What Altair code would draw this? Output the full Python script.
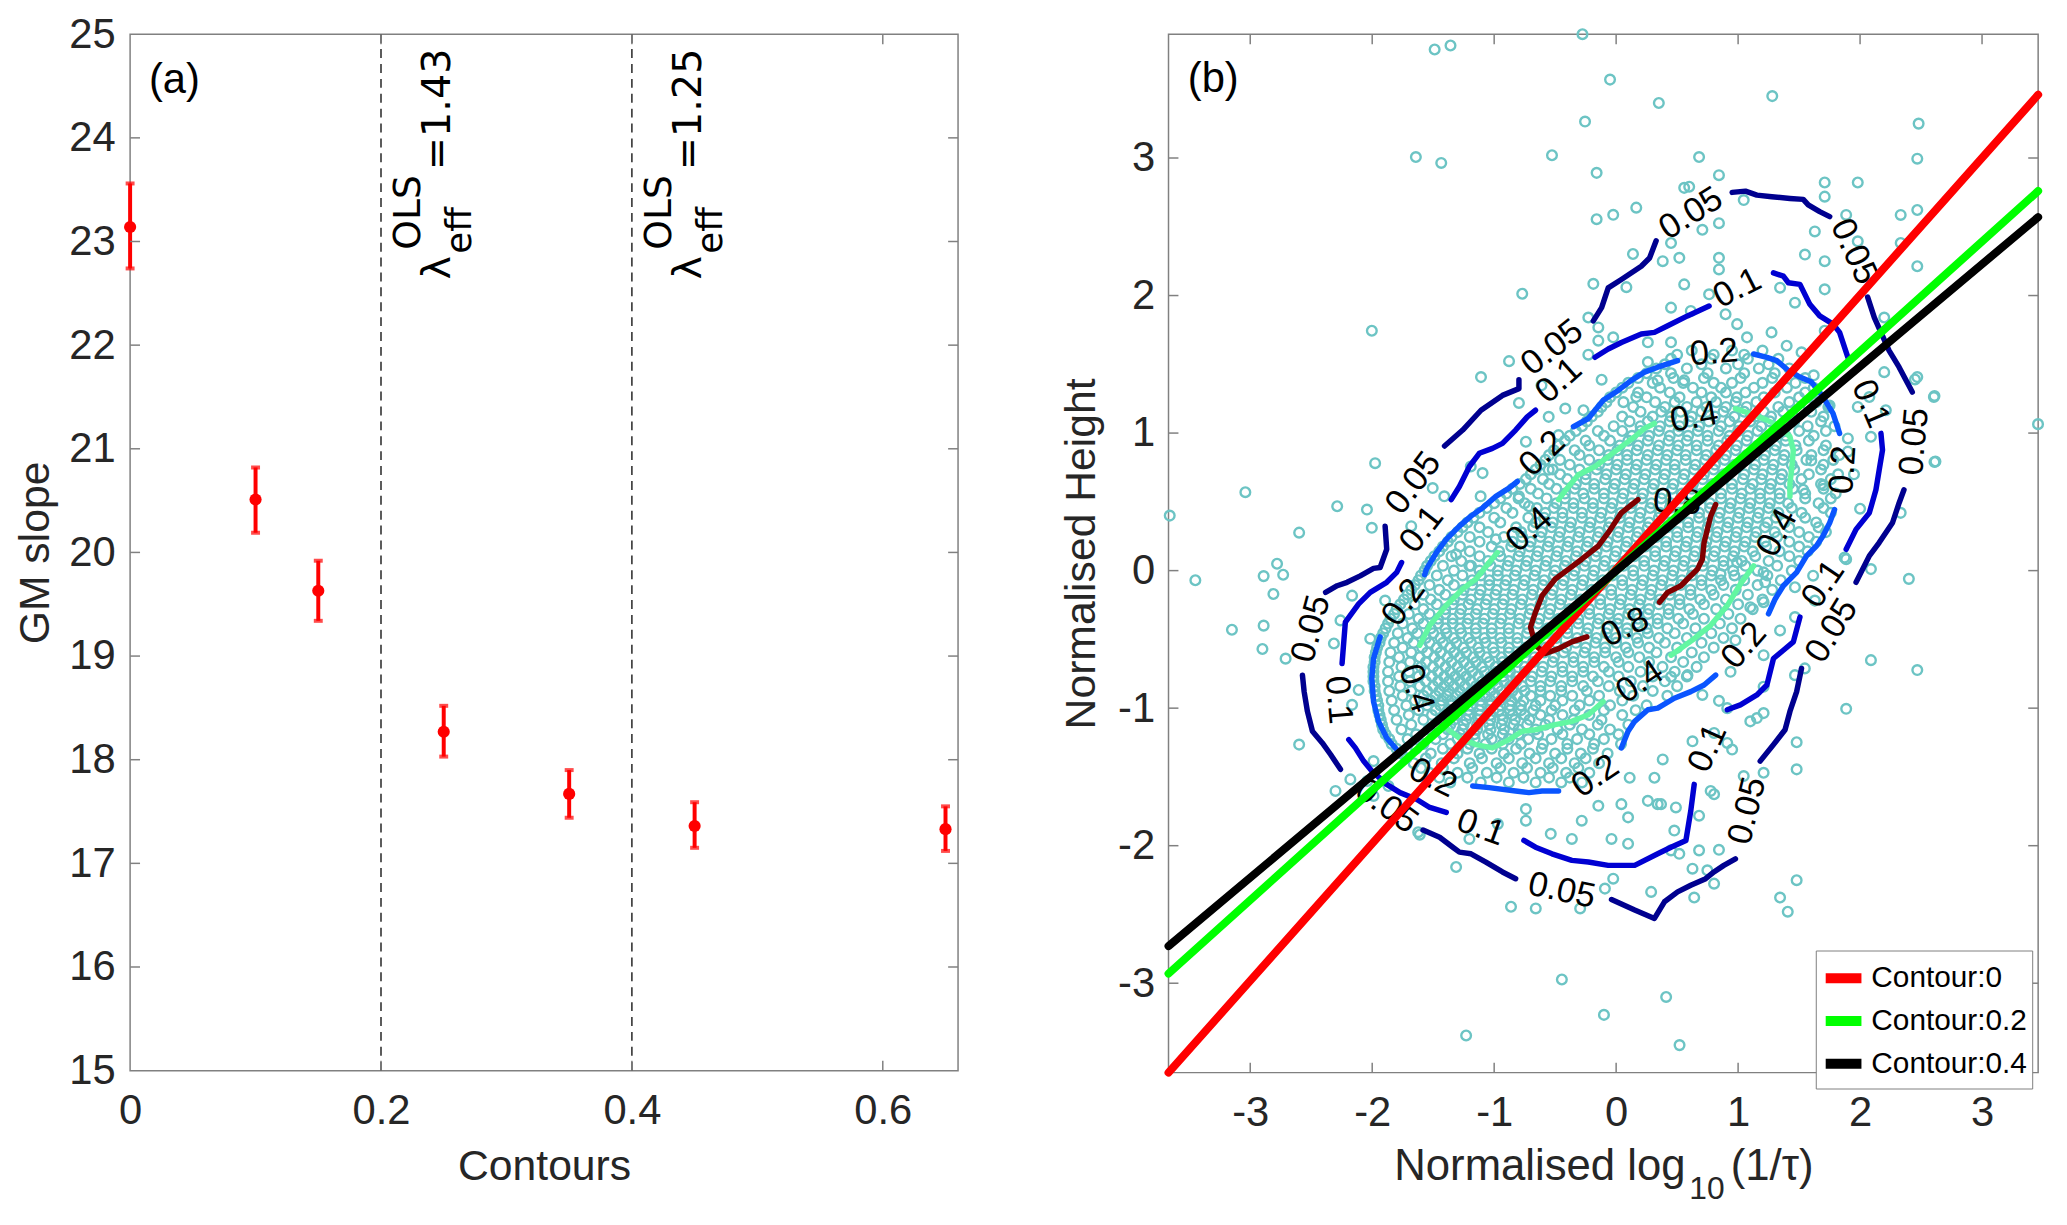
import altair as alt
import pandas as pd

FONT = "Liberation Sans"
INK = "#262626"
BOX = "#808080"

# ---------------- panel (a) data ----------------
contour_level = [0, 0.1, 0.15, 0.25, 0.35, 0.45, 0.65]
gm_slope = [23.14, 20.51, 19.63, 18.27, 17.67, 17.36, 17.33]
gm_low = [22.74, 20.19, 19.34, 18.03, 17.44, 17.15, 17.12]
gm_high = [23.56, 20.82, 19.92, 18.52, 17.90, 17.59, 17.55]
lambda_at = [0.2, 0.4]
lambda_val = ["=1.43", "=1.25"]
a_xticks = [0, 0.2, 0.4, 0.6]
a_yticks = [15, 16, 17, 18, 19, 20, 21, 22, 23, 24, 25]

# ---------------- panel (b) data ----------------
b_ticks = [-3, -2, -1, 0, 1, 2, 3]

# sparse / outer points (read individually)
outer_pts = [
    (-0.276, 3.90), (-1.488, 3.789), (-1.358, 3.818), (-1.642, 3.007), (-1.434, 2.964),
    (-0.255, 3.265), (-0.526, 3.020), (-0.770, 2.013), (-0.187, 2.085), (-0.160, 2.892),
    (-0.160, 2.555), (-0.05, 3.57), (0.35, 3.40), (1.28, 3.45), (2.48, 3.25),
    (0.680, 3.007), (0.843, 2.875), (0.599, 2.791), (1.710, 2.822), (1.710, 2.719),
    (1.981, 2.822), (2.469, 2.995), (2.333, 2.586), (2.469, 2.622), (1.886, 2.586),
    (1.629, 2.466), (1.981, 2.394), (1.548, 2.298), (1.710, 2.250), (2.469, 2.213),
    (2.333, 2.382), (1.710, 2.045), (1.046, 2.694), (0.843, 2.526), (0.707, 2.478),
    (0.518, 2.274), (0.382, 2.250), (0.843, 2.274), (0.843, 2.190), (0.558, 2.081),
    (0.762, 2.009), (0.450, 1.912), (0.612, 1.888), (0.897, 1.864), (0.992, 1.792),
    (1.274, 1.732), (1.344, 2.057), (1.466, 1.948), (1.710, 1.744), (1.073, 1.696),
    (1.398, 1.635), (1.520, 1.587), (2.198, 1.840), (2.198, 1.443), (2.469, 1.407),
    (2.076, 1.262), (2.211, 1.166), (2.605, 1.262), (2.618, 0.793), (3.459, 1.065),
    (1.981, 1.190), (2.089, 0.973), (2.333, 0.420), (1.873, 0.095), (1.900, 0.961),
    (1.900, 0.865), (1.534, 0.588),
    (-0.024, 2.587), (0.165, 2.639), (0.558, 2.783), (0.450, 2.382), (0.138, 2.302),
    (0.084, 2.061), (-2.003, 1.744), (-0.228, 1.840), (-0.146, 1.768), (-0.146, 1.672),
    (-0.024, 1.696), (0.260, 1.660), (0.450, 1.660), (-0.878, 1.523), (-1.108, 1.407),
    (-0.228, 1.570), (-0.119, 1.388), (0.260, 1.516), (0.341, 1.383), (-0.797, 1.219),
    (-0.612, 1.347), (-0.417, 1.178), (-0.553, 1.118), (-0.268, 1.166), (0.165, 1.262),
    (0.558, 1.383), (-1.976, 0.781), (-2.287, 0.468), (-2.043, 0.444), (-2.003, 0.311),
    (-2.599, 0.276), (-1.680, 0.323), (-1.504, 0.600), (-1.409, 0.540), (-1.192, 0.757),
    (-1.111, 0.540), (-1.095, 0.709), (-0.740, 0.937), (-0.472, 0.985), (-0.553, 0.733),
    (-0.797, 0.540), (-0.715, 0.468), (-0.986, 0.227), (-1.312, 0.118), (-1.203, 0.035),
    (-3.66, 0.40), (-3.45, -0.07), (-3.04, 0.57), (-2.89, -0.04), (-2.78, 0.05),
    (-2.73, -0.03), (-2.81, -0.17), (-2.89, -0.40), (-3.15, -0.43), (-2.90, -0.57),
    (-2.71, -0.64), (-2.04, -1.53), (-1.61, -1.92), (-0.10, -3.23), (0.41, -3.10),
    (0.52, -3.45), (-1.23, -3.38), (2.40, -0.06), (2.61, 0.79), (2.61, 1.27), (2.45, 1.39),
    (-2.016, -0.495), (-2.314, -0.530), (-2.165, -0.182), (-1.894, -0.218), (-2.260, -0.362),
    (-2.111, -0.868), (-2.165, -0.976), (-1.989, -1.385), (-1.867, -1.566), (-1.989, -1.638),
    (-1.623, -1.902), (-1.312, -2.155), (-1.203, -1.951), (-0.970, -1.842), (-0.862, -2.444),
    (-0.659, -2.456), (-0.445, -2.973), (-0.295, -2.456), (-0.092, -2.312), (-0.024, -2.240),
    (0.287, -2.336), (0.098, -1.986), (0.450, -2.034), (-0.038, -1.951), (-0.363, -1.951),
    (-0.536, -1.914), (-0.740, -1.818), (-0.740, -1.734), (-0.282, -1.818), (-0.146, -1.710),
    (0.043, -1.698), (0.260, -1.674), (0.341, -1.698), (0.490, -1.722), (0.477, -1.890),
    (0.111, -1.506), (0.314, -1.506), (0.098, -1.794), (-2.599, -1.265), (-2.301, -1.602),
    (-2.179, -1.518),
    (2.089, -0.651), (2.469, -0.723), (1.886, -1.005), (1.480, -1.248), (1.480, -1.445),
    (1.480, -2.251), (1.344, -2.377), (1.407, -2.480), (0.843, -2.030), (0.626, -2.167),
    (0.640, -2.377), (0.803, -2.276), (0.680, -2.034), (0.748, -2.179), (0.518, -2.059),
    (1.209, -1.470), (1.046, -1.494), (0.775, -1.602), (0.803, -1.626), (0.680, -1.782),
    (0.368, -1.698), (0.382, -1.373), (0.626, -1.241), (0.911, -1.253), (0.951, -1.301),
    (0.803, -1.180), (1.100, -1.096), (1.154, -1.072), (1.209, -1.036), (0.843, -0.947),
    (0.911, -1.000), (0.707, -0.904), (0.585, -0.760), (0.450, -0.772), (0.938, -0.736),
    (1.209, -0.615), (1.209, -0.844), (1.466, -0.760), (1.547, -0.711), (1.344, -0.435),
    (1.466, -0.338), (0.978, -0.507), (1.100, -0.266), (1.209, -0.230), (1.222, -0.085),
    (1.209, -0.013), (1.466, -0.121), (1.629, -0.218), (1.886, 0.083), (2.089, 0.011),
    (1.615, -0.037), (0.992, 0.059), (0.856, -0.025),
    (1.60, 0.80), (1.70, 0.62), (1.75, 1.20), (1.95, 0.70), (2.00, 0.45), (1.62, 1.42),
]

# dense core, estimated row by row (y, x values)
core_rows = [
    (1.60, [0.62, 0.95, 1.2]),
    (1.54, [0.45, 0.78, 1.08, 1.33]),
    (1.47, [0.33, 0.58, 0.90, 1.17, 1.42]),
    (1.40, [0.18, 0.47, 0.72, 1.02, 1.28, 1.55]),
    (1.33, [0.05, 0.36, 0.63, 0.86, 1.13, 1.40, 1.62]),
    (1.26, [-0.05, 0.25, 0.52, 0.78, 0.99, 1.21, 1.50, 1.68]),
    (1.19, [-0.12, 0.14, 0.40, 0.58, 0.74, 0.90, 1.07, 1.33, 1.58, 1.74]),
    (1.12, [-0.20, 0.05, 0.30, 0.45, 0.62, 0.81, 0.97, 1.14, 1.27, 1.45, 1.70]),
    (1.05, [-0.28, -0.02, 0.20, 0.36, 0.52, 0.68, 0.86, 1.01, 1.19, 1.34, 1.57, 1.79]),
    (0.98, [-0.38, -0.10, 0.13, 0.27, 0.44, 0.59, 0.75, 0.93, 1.08, 1.25, 1.39, 1.62]),
    (0.91, [-0.47, -0.22, 0.03, 0.18, 0.35, 0.51, 0.66, 0.84, 0.99, 1.16, 1.31, 1.47, 1.72]),
    (0.84, [-0.55, -0.30, -0.06, 0.09, 0.26, 0.42, 0.57, 0.74, 0.90, 1.07, 1.22, 1.38, 1.60, 1.83]),
    (0.77, [-0.62, -0.38, -0.14, 0.01, 0.17, 0.33, 0.48, 0.65, 0.81, 0.97, 1.14, 1.29, 1.44, 1.70]),
    (0.70, [-0.70, -0.46, -0.25, -0.08, 0.08, 0.24, 0.40, 0.56, 0.72, 0.88, 1.05, 1.20, 1.36, 1.58, 1.82]),
    (0.63, [-0.79, -0.55, -0.33, -0.18, -0.01, 0.15, 0.31, 0.47, 0.63, 0.79, 0.95, 1.12, 1.27, 1.42, 1.68]),
    (0.56, [-0.90, -0.64, -0.42, -0.27, -0.10, 0.06, 0.22, 0.38, 0.54, 0.70, 0.86, 1.03, 1.18, 1.34, 1.55, 1.80]),
    (0.49, [-1.00, -0.75, -0.49, -0.35, -0.19, -0.03, 0.13, 0.29, 0.45, 0.61, 0.77, 0.94, 1.10, 1.26, 1.41, 1.66]),
    (0.42, [-1.12, -0.85, -0.58, -0.44, -0.28, -0.12, 0.04, 0.20, 0.36, 0.52, 0.68, 0.85, 1.01, 1.17, 1.33, 1.52, 1.76]),
    (0.35, [-1.22, -0.95, -0.66, -0.52, -0.37, -0.21, -0.05, 0.11, 0.27, 0.43, 0.59, 0.76, 0.92, 1.08, 1.24, 1.38, 1.64]),
    (0.28, [-1.30, -1.05, -0.78, -0.61, -0.46, -0.30, -0.14, 0.02, 0.18, 0.34, 0.50, 0.67, 0.83, 0.99, 1.15, 1.30, 1.50, 1.72]),
    (0.21, [-1.38, -1.12, -0.85, -0.70, -0.55, -0.39, -0.23, -0.07, 0.09, 0.25, 0.41, 0.58, 0.74, 0.90, 1.06, 1.22, 1.42, 1.64]),
    (0.14, [-1.45, -1.20, -0.96, -0.79, -0.64, -0.48, -0.32, -0.16, 0.00, 0.16, 0.32, 0.49, 0.65, 0.81, 0.97, 1.12, 1.34, 1.57]),
    (0.07, [-1.52, -1.27, -1.05, -0.88, -0.73, -0.57, -0.41, -0.25, -0.09, 0.07, 0.23, 0.40, 0.56, 0.72, 0.88, 1.03, 1.25, 1.50]),
    (0.00, [-1.57, -1.33, -1.12, -0.97, -0.82, -0.66, -0.50, -0.34, -0.18, -0.02, 0.14, 0.31, 0.47, 0.63, 0.79, 0.96, 1.16, 1.44]),
    (-0.07, [-1.62, -1.38, -1.18, -1.04, -0.90, -0.75, -0.59, -0.43, -0.27, -0.11, 0.05, 0.22, 0.38, 0.54, 0.70, 0.86, 1.05, 1.35]),
    (-0.14, [-1.68, -1.45, -1.25, -1.11, -0.98, -0.84, -0.68, -0.52, -0.36, -0.20, -0.04, 0.13, 0.29, 0.45, 0.61, 0.78, 0.98, 1.28]),
    (-0.21, [-1.74, -1.52, -1.33, -1.19, -1.06, -0.92, -0.77, -0.61, -0.45, -0.29, -0.13, 0.04, 0.20, 0.36, 0.52, 0.69, 0.90, 1.20]),
    (-0.28, [-1.80, -1.58, -1.40, -1.27, -1.14, -1.00, -0.86, -0.70, -0.54, -0.38, -0.22, -0.05, 0.11, 0.27, 0.43, 0.60, 0.82, 1.12]),
    (-0.35, [-1.85, -1.62, -1.46, -1.34, -1.21, -1.08, -0.94, -0.79, -0.63, -0.47, -0.31, -0.14, 0.02, 0.18, 0.34, 0.51, 0.72, 1.02]),
    (-0.42, [-1.89, -1.67, -1.52, -1.40, -1.28, -1.15, -1.02, -0.88, -0.72, -0.56, -0.40, -0.23, -0.07, 0.09, 0.25, 0.42, 0.65, 0.95]),
    (-0.49, [-1.93, -1.71, -1.56, -1.44, -1.33, -1.21, -1.08, -0.95, -0.81, -0.65, -0.49, -0.32, -0.16, 0.00, 0.17, 0.35, 0.58, 0.88]),
    (-0.56, [-1.96, -1.75, -1.59, -1.47, -1.36, -1.25, -1.13, -1.01, -0.88, -0.74, -0.58, -0.41, -0.25, -0.09, 0.08, 0.27, 0.50, 0.80]),
    (-0.63, [-1.98, -1.78, -1.61, -1.49, -1.38, -1.28, -1.17, -1.06, -0.94, -0.82, -0.67, -0.51, -0.35, -0.18, 0.00, 0.19, 0.45, 0.72]),
    (-0.70, [-1.99, -1.76, -1.60, -1.50, -1.40, -1.30, -1.20, -1.10, -0.99, -0.88, -0.75, -0.60, -0.44, -0.27, -0.10, 0.10, 0.38, 0.66]),
    (-0.77, [-1.99, -1.78, -1.62, -1.51, -1.41, -1.32, -1.23, -1.13, -1.03, -0.93, -0.82, -0.69, -0.53, -0.36, -0.19, 0.02, 0.30, 0.58]),
    (-0.84, [-1.98, -1.77, -1.61, -1.50, -1.41, -1.33, -1.24, -1.15, -1.06, -0.97, -0.87, -0.77, -0.62, -0.45, -0.27, -0.06, 0.22, 0.50]),
    (-0.91, [-1.97, -1.75, -1.58, -1.48, -1.39, -1.31, -1.23, -1.15, -1.07, -0.99, -0.90, -0.81, -0.70, -0.54, -0.36, -0.14, 0.14, 0.42]),
    (-0.98, [-1.95, -1.72, -1.55, -1.44, -1.35, -1.27, -1.19, -1.11, -1.03, -0.95, -0.87, -0.78, -0.66, -0.50, -0.30, -0.05, 0.25]),
    (-1.05, [-1.94, -1.70, -1.51, -1.40, -1.30, -1.21, -1.12, -1.03, -0.94, -0.85, -0.75, -0.62, -0.44, -0.22, 0.05]),
    (-1.12, [-1.92, -1.68, -1.47, -1.36, -1.25, -1.14, -1.04, -0.94, -0.84, -0.73, -0.58, -0.38, -0.15, 0.10]),
    (-1.19, [-1.89, -1.64, -1.42, -1.28, -1.16, -1.05, -0.93, -0.80, -0.64, -0.44, -0.22, 0.02]),
    (-1.26, [-1.84, -1.58, -1.36, -1.20, -1.07, -0.93, -0.78, -0.60, -0.40, -0.18, 0.04]),
    (-1.33, [-1.76, -1.52, -1.30, -1.12, -0.92, -0.71, -0.50, -0.29, -0.07]),
    (-1.40, [-1.66, -1.43, -1.20, -0.98, -0.77, -0.55, -0.34, -0.14]),
    (-1.47, [-1.53, -1.30, -1.06, -0.84, -0.62, -0.41, -0.22]),
    (-1.54, [-1.36, -1.11, -0.88, -0.66, -0.45, -0.28]),
]

# second pass over the core, the points lying between the rows above
core_rows_b = [
    (1.57, [0.50, 0.80, 1.05]),
    (1.50, [0.40, 0.70, 1.00, 1.25]),
    (1.435, [0.25, 0.45, 0.75, 1.05, 1.30]),
    (1.365, [0.10, 0.30, 0.55, 0.80, 0.95, 1.20, 1.47]),
    (1.295, [0.00, 0.18, 0.44, 0.70, 0.90, 1.06, 1.30, 1.55]),
    (1.225, [-0.08, 0.06, 0.32, 0.48, 0.66, 0.82, 0.98, 1.15, 1.42, 1.64]),
    (1.155, [-0.15, 0.20, 0.37, 0.53, 0.70, 0.88, 1.05, 1.21, 1.37, 1.60]),
    (1.085, [-0.24, 0.11, 0.26, 0.44, 0.60, 0.76, 0.93, 1.10, 1.26, 1.46, 1.68]),
    (1.015, [-0.33, -0.15, 0.05, 0.20, 0.35, 0.51, 0.67, 0.84, 1.00, 1.16, 1.31, 1.50, 1.72]),
    (0.945, [-0.42, -0.25, -0.05, 0.10, 0.26, 0.43, 0.58, 0.75, 0.91, 1.07, 1.23, 1.39, 1.58]),
    (0.875, [-0.51, -0.34, -0.14, 0.01, 0.17, 0.34, 0.50, 0.66, 0.82, 0.98, 1.15, 1.30, 1.48, 1.70]),
    (0.805, [-0.58, -0.46, -0.22, -0.07, 0.09, 0.25, 0.41, 0.57, 0.73, 0.89, 1.06, 1.21, 1.37, 1.56, 1.78]),
    (0.735, [-0.66, -0.52, -0.30, -0.16, 0.00, 0.16, 0.32, 0.48, 0.64, 0.80, 0.96, 1.13, 1.28, 1.46, 1.68]),
    (0.665, [-0.74, -0.60, -0.40, -0.25, -0.09, 0.07, 0.23, 0.39, 0.55, 0.71, 0.87, 1.04, 1.19, 1.35, 1.52, 1.76]),
    (0.595, [-0.85, -0.70, -0.49, -0.34, -0.18, -0.02, 0.14, 0.30, 0.46, 0.62, 0.78, 0.95, 1.10, 1.26, 1.45, 1.70]),
    (0.525, [-0.95, -0.80, -0.57, -0.42, -0.26, -0.10, 0.05, 0.21, 0.37, 0.53, 0.69, 0.86, 1.02, 1.18, 1.34, 1.55, 1.76]),
    (0.455, [-1.06, -0.90, -0.65, -0.51, -0.35, -0.19, -0.04, 0.12, 0.28, 0.44, 0.60, 0.77, 0.93, 1.09, 1.25, 1.44, 1.70]),
    (0.385, [-1.17, -1.00, -0.72, -0.59, -0.44, -0.28, -0.13, 0.03, 0.19, 0.35, 0.51, 0.68, 0.84, 1.00, 1.16, 1.31, 1.55]),
    (0.315, [-1.26, -1.12, -0.82, -0.68, -0.53, -0.38, -0.22, -0.06, 0.10, 0.26, 0.42, 0.59, 0.75, 0.91, 1.07, 1.22, 1.42, 1.66]),
    (0.245, [-1.35, -1.20, -0.92, -0.77, -0.62, -0.47, -0.31, -0.15, 0.01, 0.17, 0.33, 0.50, 0.66, 0.82, 0.98, 1.14, 1.32, 1.58]),
    (0.175, [-1.42, -1.28, -1.02, -0.86, -0.71, -0.56, -0.40, -0.24, -0.08, 0.08, 0.24, 0.41, 0.57, 0.73, 0.89, 1.05, 1.23, 1.50]),
    (0.105, [-1.49, -1.35, -1.12, -0.95, -0.80, -0.65, -0.49, -0.33, -0.17, -0.01, 0.15, 0.32, 0.48, 0.64, 0.80, 0.96, 1.14, 1.42]),
    (0.035, [-1.55, -1.42, -1.19, -1.03, -0.89, -0.74, -0.58, -0.42, -0.26, -0.10, 0.06, 0.23, 0.39, 0.55, 0.71, 0.88, 1.06, 1.32]),
    (-0.035, [-1.60, -1.47, -1.26, -1.11, -0.97, -0.83, -0.67, -0.51, -0.35, -0.19, -0.03, 0.14, 0.30, 0.46, 0.62, 0.78, 0.97, 1.24]),
    (-0.105, [-1.65, -1.53, -1.33, -1.18, -1.04, -0.91, -0.76, -0.60, -0.44, -0.28, -0.12, 0.05, 0.21, 0.37, 0.53, 0.70, 0.88, 1.16]),
    (-0.175, [-1.71, -1.58, -1.40, -1.26, -1.12, -0.99, -0.85, -0.69, -0.53, -0.37, -0.21, -0.04, 0.12, 0.28, 0.44, 0.61, 0.80, 1.08]),
    (-0.245, [-1.77, -1.65, -1.47, -1.34, -1.21, -1.07, -0.93, -0.78, -0.62, -0.46, -0.30, -0.13, 0.03, 0.19, 0.35, 0.52, 0.72, 1.00]),
    (-0.315, [-1.82, -1.70, -1.53, -1.40, -1.28, -1.15, -1.01, -0.87, -0.71, -0.55, -0.39, -0.22, -0.06, 0.10, 0.26, 0.43, 0.63, 0.92]),
    (-0.385, [-1.87, -1.75, -1.58, -1.46, -1.34, -1.22, -1.09, -0.95, -0.80, -0.64, -0.48, -0.31, -0.15, 0.01, 0.17, 0.34, 0.55, 0.85]),
    (-0.455, [-1.91, -1.79, -1.63, -1.50, -1.39, -1.27, -1.15, -1.02, -0.88, -0.73, -0.57, -0.40, -0.24, -0.08, 0.09, 0.26, 0.48, 0.78]),
    (-0.525, [-1.94, -1.82, -1.66, -1.53, -1.42, -1.31, -1.19, -1.07, -0.94, -0.81, -0.66, -0.49, -0.33, -0.17, 0.00, 0.18, 0.40, 0.70]),
    (-0.595, [-1.97, -1.85, -1.68, -1.55, -1.44, -1.33, -1.23, -1.12, -1.00, -0.88, -0.75, -0.59, -0.43, -0.26, -0.09, 0.10, 0.33, 0.62]),
    (-0.665, [-1.98, -1.86, -1.69, -1.56, -1.45, -1.35, -1.25, -1.15, -1.04, -0.93, -0.81, -0.68, -0.52, -0.35, -0.18, 0.02, 0.27, 0.55]),
    (-0.735, [-1.99, -1.87, -1.70, -1.57, -1.46, -1.36, -1.27, -1.18, -1.08, -0.98, -0.87, -0.75, -0.61, -0.44, -0.27, -0.06, 0.20, 0.48]),
    (-0.805, [-1.99, -1.87, -1.69, -1.56, -1.46, -1.37, -1.28, -1.19, -1.10, -1.01, -0.92, -0.82, -0.70, -0.54, -0.36, -0.15, 0.12, 0.40]),
    (-0.875, [-1.98, -1.86, -1.68, -1.55, -1.45, -1.37, -1.28, -1.19, -1.11, -1.03, -0.94, -0.85, -0.75, -0.62, -0.45, -0.24, 0.03, 0.30]),
    (-0.945, [-1.96, -1.84, -1.65, -1.52, -1.43, -1.35, -1.27, -1.19, -1.11, -1.03, -0.95, -0.86, -0.76, -0.62, -0.44, -0.22, 0.05]),
    (-1.015, [-1.95, -1.82, -1.62, -1.48, -1.38, -1.29, -1.21, -1.12, -1.04, -0.96, -0.87, -0.78, -0.68, -0.53, -0.34, -0.10, 0.16]),
    (-1.085, [-1.93, -1.80, -1.58, -1.44, -1.33, -1.23, -1.13, -1.03, -0.93, -0.83, -0.71, -0.55, -0.35, -0.12]),
    (-1.155, [-1.91, -1.76, -1.54, -1.38, -1.26, -1.14, -1.03, -0.92, -0.80, -0.66, -0.48, -0.28, -0.05]),
    (-1.225, [-1.86, -1.71, -1.48, -1.30, -1.16, -1.02, -0.88, -0.72, -0.53, -0.32, -0.10]),
    (-1.295, [-1.80, -1.64, -1.42, -1.22, -1.02, -0.82, -0.61, -0.40, -0.19]),
    (-1.365, [-1.72, -1.56, -1.33, -1.10, -0.88, -0.66, -0.45, -0.25]),
    (-1.435, [-1.60, -1.42, -1.18, -0.95, -0.73, -0.52, -0.31]),
    (-1.505, [-1.45, -1.22, -0.98, -0.76, -0.55, -0.38]),
]

# density contours, traced segment by segment (gaps are where labels sit)
contour_levels = ["0.05", "0.1", "0.2", "0.4", "0.8"]
contour_colors = ["#00008f", "#0000d2", "#0a55ff", "#62f7a2", "#800000"]
contour_segs = {
    "0.05": [
        [(-1.407, 0.906), (-1.258, 1.022), (-1.108, 1.166), (-0.932, 1.274), (-0.797, 1.323), (-0.797, 1.388)],
        [(-0.187, 1.816), (-0.119, 1.912), (-0.065, 2.056), (0.043, 2.117), (0.206, 2.213), (0.274, 2.273), (0.328, 2.398)],
        [(0.951, 2.750), (1.060, 2.759), (1.154, 2.730), (1.276, 2.718), (1.425, 2.706), (1.534, 2.699), (1.575, 2.659), (1.669, 2.610), (1.751, 2.574)],
        [(2.062, 1.989), (2.117, 1.840), (2.171, 1.732), (2.238, 1.599), (2.320, 1.479), (2.428, 1.298)],
        [(2.360, 0.588), (2.320, 0.492), (2.266, 0.348), (2.157, 0.204), (2.076, 0.107), (1.967, -0.085)],
        [(1.520, -0.711), (1.480, -0.880), (1.425, -1.024), (1.385, -1.157), (1.290, -1.265), (1.181, -1.385)],
        [(0.978, -2.095), (0.883, -2.143), (0.802, -2.191), (0.734, -2.240), (0.612, -2.288), (0.504, -2.336), (0.396, -2.408), (0.314, -2.529), (0.152, -2.468), (-0.038, -2.391)],
        [(-0.824, -2.240), (-0.932, -2.191), (-1.068, -2.119), (-1.190, -2.059), (-1.285, -2.047), (-1.339, -2.011), (-1.447, -1.939), (-1.583, -1.886)],
        [(-2.260, -1.445), (-2.341, -1.337), (-2.409, -1.253), (-2.490, -1.168), (-2.531, -1.024), (-2.558, -0.880), (-2.572, -0.760)],
        [(-2.382, -0.158), (-2.287, -0.110), (-2.206, -0.085), (-2.098, -0.038), (-1.989, 0.016), (-1.935, 0.023), (-1.881, 0.155), (-1.894, 0.323)],
    ],
    "0.1": [
        [(-1.352, 0.516), (-1.285, 0.612), (-1.203, 0.757), (-1.122, 0.853), (-1.014, 0.889), (-0.932, 0.925), (-0.824, 1.022), (-0.729, 1.118), (-0.661, 1.166)],
        [(-0.173, 1.551), (-0.065, 1.611), (0.043, 1.659), (0.206, 1.720), (0.314, 1.732), (0.423, 1.780), (0.585, 1.852), (0.762, 1.924)],
        [(1.290, 2.165), (1.371, 2.141), (1.412, 2.093), (1.507, 2.081), (1.588, 1.936), (1.669, 1.852), (1.778, 1.792), (1.832, 1.732), (1.900, 1.551)],
        [(2.171, 0.998), (2.184, 0.877), (2.157, 0.733), (2.130, 0.588), (2.076, 0.420), (1.967, 0.300), (1.886, 0.155)],
        [(1.507, -0.338), (1.453, -0.518), (1.371, -0.579), (1.290, -0.639), (1.236, -0.832), (1.154, -0.904), (1.019, -0.976), (0.911, -1.012)],
        [(0.640, -1.554), (0.612, -1.746), (0.572, -1.962), (0.450, -2.011), (0.341, -2.059), (0.152, -2.143), (-0.065, -2.143), (-0.228, -2.119), (-0.363, -2.107), (-0.526, -2.059), (-0.661, -2.011), (-0.756, -1.962)],
        [(-1.393, -1.758), (-1.528, -1.722), (-1.637, -1.662), (-1.772, -1.614), (-1.881, -1.554), (-2.003, -1.457), (-2.070, -1.385), (-2.138, -1.289), (-2.192, -1.229)],
        [(-2.247, -0.675), (-2.233, -0.518), (-2.220, -0.374), (-2.111, -0.242), (-2.016, -0.158), (-1.881, -0.085), (-1.799, -0.013), (-1.759, 0.059)],
    ],
    "0.2": [
        [(-1.570, -0.030), (-1.555, 0.011), (-1.474, 0.131), (-1.393, 0.227), (-1.285, 0.323), (-1.190, 0.396), (-1.095, 0.456), (-0.986, 0.540), (-0.878, 0.600), (-0.810, 0.648)],
        [(-0.350, 1.046), (-0.228, 1.106), (-0.173, 1.166), (-0.106, 1.238), (0.016, 1.310), (0.125, 1.383), (0.233, 1.443), (0.341, 1.479), (0.504, 1.527)],
        [(1.127, 1.575), (1.236, 1.551), (1.317, 1.527), (1.412, 1.455), (1.507, 1.407), (1.602, 1.371), (1.696, 1.263), (1.778, 1.143), (1.832, 0.998)],
        [(1.791, 0.444), (1.751, 0.348), (1.696, 0.251), (1.642, 0.179), (1.561, 0.107), (1.480, -0.013), (1.371, -0.110), (1.304, -0.206), (1.249, -0.314)],
        [(0.816, -0.760), (0.721, -0.832), (0.612, -0.880), (0.477, -0.928), (0.341, -1.000), (0.260, -1.012), (0.152, -1.096), (0.098, -1.168), (0.043, -1.289)],
        [(-0.472, -1.602), (-0.607, -1.602), (-0.715, -1.614), (-0.824, -1.602), (-1.041, -1.578), (-1.176, -1.566)],
        [(-1.799, -1.301), (-1.881, -1.217), (-1.948, -1.096), (-1.989, -0.952), (-2.003, -0.783), (-1.989, -0.639), (-1.935, -0.482)],
    ],
    "0.4": [
        [(-1.610, -0.543), (-1.528, -0.398), (-1.393, -0.254), (-1.258, -0.134), (-1.149, -0.061), (-1.041, 0.059), (-0.973, 0.131)],
        [(-0.472, 0.516), (-0.390, 0.612), (-0.309, 0.697), (-0.173, 0.757), (-0.065, 0.829), (0.043, 0.901), (0.152, 0.973), (0.233, 1.034), (0.314, 1.070)],
        [(0.978, 1.178), (1.100, 1.142), (1.236, 1.094), (1.344, 1.046), (1.425, 0.973), (1.453, 0.877), (1.439, 0.733), (1.425, 0.637), (1.425, 0.540)],
        [(1.127, 0.035), (1.019, -0.097), (0.911, -0.254), (0.775, -0.398), (0.640, -0.495), (0.450, -0.615)],
        [(-0.106, -0.952), (-0.228, -1.048), (-0.363, -1.096), (-0.499, -1.120), (-0.661, -1.157), (-0.770, -1.168), (-0.878, -1.229), (-1.014, -1.289), (-1.149, -1.265), (-1.285, -1.217), (-1.393, -1.144)],
    ],
    "0.8": [
        [(0.179, 0.516), (0.043, 0.420), (-0.065, 0.276), (-0.146, 0.179), (-0.282, 0.083), (-0.390, 0.011), (-0.499, -0.061), (-0.607, -0.182), (-0.661, -0.302), (-0.702, -0.410), (-0.661, -0.543), (-0.580, -0.603), (-0.472, -0.567), (-0.363, -0.518), (-0.241, -0.482)],
        [(0.355, -0.230), (0.423, -0.158), (0.531, -0.110), (0.585, -0.061), (0.667, 0.011), (0.707, 0.083), (0.721, 0.204), (0.748, 0.300), (0.775, 0.396), (0.816, 0.480)],
    ],
}

# inline contour labels: text, x, y, angle (deg, clockwise)
contour_labels = [
    ("0.05", -0.526, 1.623, 322), ("0.05", 0.612, 2.598, 328), ("0.05", 1.954, 2.321, 65),
    ("0.05", 2.442, 0.937, 275), ("0.05", 1.764, -0.435, 302), ("0.05", 1.073, -1.746, 284),
    ("0.05", -0.445, -2.324, 12), ("0.05", -1.881, -1.710, 36), ("0.05", -2.504, -0.422, 285),
    ("0.05", -1.664, 0.637, 307),
    ("0.1", -0.472, 1.383, 318), ("0.1", 0.992, 2.056, 333), ("0.1", 2.089, 1.214, 67),
    ("0.1", 1.696, -0.097, 304), ("0.1", 0.748, -1.289, 294), ("0.1", -1.108, -1.866, 20),
    ("0.1", -2.274, -0.940, 85), ("0.1", -1.596, 0.300, 308),
    ("0.2", -0.607, 0.853, 316), ("0.2", 0.802, 1.587, 355), ("0.2", 1.859, 0.733, 274),
    ("0.2", 1.046, -0.543, 311), ("0.2", -0.173, -1.493, 326), ("0.2", -1.501, -1.505, 26),
    ("0.2", -1.745, -0.230, 306),
    ("0.4", -0.715, 0.300, 319), ("0.4", 0.640, 1.118, 350), ("0.4", 1.317, 0.276, 298),
    ("0.4", 0.192, -0.807, 326), ("0.4", -1.637, -0.856, 72),
    ("0.8", 0.071, -0.410, 334), ("0.8", 0.50, 0.50, 3),
]

# fitted lines (end points across the axis range)
fit_names = ["Contour:0", "Contour:0.2", "Contour:0.4"]
fit_x = [-3.67, 3.46]
fit_y = {"Contour:0": [-3.65, 3.46], "Contour:0.2": [-2.93, 2.76], "Contour:0.4": [-2.73, 2.57]}
fit_colors = ["#ff0000", "#00ff00", "#000000"]

# ---------------- frames ----------------
df_a = pd.DataFrame({"x": contour_level, "y": gm_slope, "lo": gm_low, "hi": gm_high})
df_vl = pd.DataFrame({"x": lambda_at})

pts = list(outer_pts) + [(x, y) for y, xs in core_rows + core_rows_b for x in xs]
df_pts = pd.DataFrame(pts, columns=["x", "y"])

rows = []
for lvl, segs in contour_segs.items():
    for si, seg in enumerate(segs):
        for i, (x, y) in enumerate(seg):
            rows.append({"lvl": lvl, "seg": f"{lvl}-{si}", "i": i, "x": x, "y": y})
df_cont = pd.DataFrame(rows)
df_clab = pd.DataFrame(contour_labels, columns=["t", "x", "y", "ang"])

fit_rows = []
for name in fit_names:
    for x, y in zip(fit_x, fit_y[name]):
        fit_rows.append({"fit": name, "x": x, "y": y})
df_fit = pd.DataFrame(fit_rows)


def axis(values, title, lab_pad, title_pad):
    kw = dict(values=values, ticks=False, domain=False, grid=False,
              labelFontSize=42, labelFont=FONT, labelColor=INK, labelPadding=lab_pad,
              titleFontSize=43, titleFont=FONT, titleColor=INK, titleFontWeight="normal",
              titlePadding=title_pad, labelExpr="'' + datum.value", labelFlush=False)
    return alt.Axis(title=title, **kw)


def inner_ticks(xvals, yvals, X, Y, W, H, L=10):
    dx = pd.DataFrame({"x": xvals})
    dy = pd.DataFrame({"y": yvals})
    st = dict(color=BOX, strokeWidth=1.5)
    return [
        alt.Chart(dx).mark_rule(**st).encode(x=X, y=alt.value(H), y2=alt.value(H - L)),
        alt.Chart(dx).mark_rule(**st).encode(x=X, y=alt.value(0), y2=alt.value(L)),
        alt.Chart(dy).mark_rule(**st).encode(y=Y, x=alt.value(0), x2=alt.value(L)),
        alt.Chart(dy).mark_rule(**st).encode(y=Y, x=alt.value(W), x2=alt.value(W - L)),
    ]


# ---------------- panel (a) ----------------
WA, HA = 834, 1044
xa_scale = alt.Scale(domain=[0, 0.66], nice=False, zero=False)
ya_scale = alt.Scale(domain=[15, 25], nice=False, zero=False)
xa_axis = axis(a_xticks, "Contours", 20, 15)
ya_axis = axis(a_yticks, "GM slope", 15, 11)
XA = alt.X("x:Q", scale=xa_scale, axis=xa_axis)
YA = alt.Y("y:Q", scale=ya_scale, axis=ya_axis)

vlines = alt.Chart(df_vl).mark_rule(color="#333333", strokeWidth=1.6, strokeDash=[9, 6]).encode(x=XA)
bars = alt.Chart(df_a).mark_rule(color="#ff0000", strokeWidth=4).encode(
    x=XA, y=alt.Y("lo:Q", scale=ya_scale, axis=ya_axis), y2="hi:Q")
cap_hi = alt.Chart(df_a).mark_tick(color="#ff0000", orient="horizontal", size=9, thickness=4).encode(
    x=XA, y=alt.Y("hi:Q", scale=ya_scale, axis=ya_axis))
cap_lo = alt.Chart(df_a).mark_tick(color="#ff0000", orient="horizontal", size=9, thickness=4).encode(
    x=XA, y=alt.Y("lo:Q", scale=ya_scale, axis=ya_axis))
dots = alt.Chart(df_a).mark_point(shape="circle", filled=True, color="#ff0000", size=150, opacity=1).encode(x=XA, y=YA)

# lambda labels built from pieces (rotated, reading upwards)
lam_rows = []
for xv, val in zip(lambda_at, lambda_val):
    lam_rows.append({"x": xv, "y": 22.634, "t": "λ", "part": "main"})
    lam_rows.append({"x": xv, "y": 23.688, "t": val, "part": "main"})
    lam_rows.append({"x": xv, "y": 22.883, "t": "eff", "part": "sub"})
    lam_rows.append({"x": xv, "y": 22.921, "t": "OLS", "part": "sup"})
df_lam = pd.DataFrame(lam_rows)
lam_layers = []
for part, dy, fs in [("main", 70, 40), ("sub", 91, 36), ("sup", 39, 38)]:
    lam_layers.append(
        alt.Chart(df_lam[df_lam.part == part]).mark_text(
            angle=270, align="left", baseline="alphabetic", dy=dy, fontSize=fs,
            font="DejaVu Sans", color="black").encode(x=XA, y=YA, text="t:N"))

tag_a = alt.Chart(pd.DataFrame({"x": [0.015], "y": [24.435], "t": ["(a)"]})).mark_text(
    align="left", baseline="alphabetic", fontSize=42, font=FONT, color="black").encode(x=XA, y=YA, text="t:N")

panel_a = alt.layer(
    vlines, bars, cap_hi, cap_lo, dots, *lam_layers, tag_a,
    *inner_ticks([0.2, 0.4, 0.6], a_yticks[1:-1], XA, YA, WA, HA),
).properties(width=WA, height=HA)

# ---------------- panel (b) ----------------
WB, HB = 876, 1046
xb_scale = alt.Scale(domain=[-3.67, 3.46], nice=False, zero=False)
yb_scale = alt.Scale(domain=[-3.65, 3.9], nice=False, zero=False)
XB = alt.X("x:Q", scale=xb_scale, axis=axis(b_ticks, None, 20, 12))
YB = alt.Y("y:Q", scale=yb_scale, axis=axis(b_ticks, "Normalised Height", 14, 14))

scatter = alt.Chart(df_pts).mark_point(shape="circle", filled=False, size=95, strokeWidth=2.4,
                                       color="#6cc4c4", opacity=1).encode(x=XB, y=YB)
cont = alt.Chart(df_cont).mark_line(strokeWidth=5.5, strokeCap="round", strokeJoin="round").encode(
    x=XB, y=YB, detail="seg:N", order="i:Q",
    color=alt.Color("lvl:N", scale=alt.Scale(domain=contour_levels, range=contour_colors), legend=None))
clab = alt.Chart(df_clab).mark_text(fontSize=35, font=FONT, color="black", align="center",
                                    baseline="middle").encode(
    x=XB, y=YB, text="t:N", angle=alt.Angle("ang:Q", scale=None))
fits = alt.Chart(df_fit).mark_line(strokeWidth=8, strokeCap="round").encode(
    x=XB, y=YB, detail="fit:N",
    color=alt.Color("fit:N", title=None, scale=alt.Scale(domain=fit_names, range=fit_colors),
                    legend=alt.Legend(orient="none", legendX=652, legendY=923, direction="vertical",
                                      symbolType="stroke", symbolStrokeWidth=10, symbolSize=1296,
                                      labelFontSize=30, labelFont=FONT, labelColor="black",
                                      labelOffset=5, rowPadding=0, padding=5,
                                      strokeColor="#7f7f7f", fillColor="white")))

tag_b = alt.Chart(pd.DataFrame({"x": [-3.512], "y": [3.477], "t": ["(b)"]})).mark_text(
    align="left", baseline="alphabetic", fontSize=42, font=FONT, color="black").encode(x=XB, y=YB, text="t:N")

xt_main = alt.Chart(pd.DataFrame({"x": [0.569], "t": ["Normalised log"]})).mark_text(
    align="right", baseline="alphabetic", fontSize=44, font=FONT, color=INK).encode(
    x=XB, y=alt.value(1154), text="t:N")
xt_sub = alt.Chart(pd.DataFrame({"x": [0.60], "t": ["10"]})).mark_text(
    align="left", baseline="alphabetic", fontSize=32, font=FONT, color=INK).encode(
    x=XB, y=alt.value(1173), text="t:N")
xt_tail = alt.Chart(pd.DataFrame({"x": [0.94], "t": ["(1/τ)"]})).mark_text(
    align="left", baseline="alphabetic", fontSize=44, font=FONT, color=INK).encode(
    x=XB, y=alt.value(1154), text="t:N")

panel_b = alt.layer(
    scatter, cont, clab, fits, tag_b, xt_main, xt_sub, xt_tail,
    *inner_ticks(b_ticks, b_ticks, XB, YB, WB, HB),
).resolve_scale(color="independent").properties(width=WB, height=HB)

chart = alt.hconcat(panel_a, panel_b, spacing=100).properties(
    padding={"left": 6, "top": 0, "right": 4, "bottom": 4}, background="white"
).configure_view(stroke=BOX, strokeWidth=1.5)

chart.save("out.html", embed_options={"renderer": "svg", "actions": False})
